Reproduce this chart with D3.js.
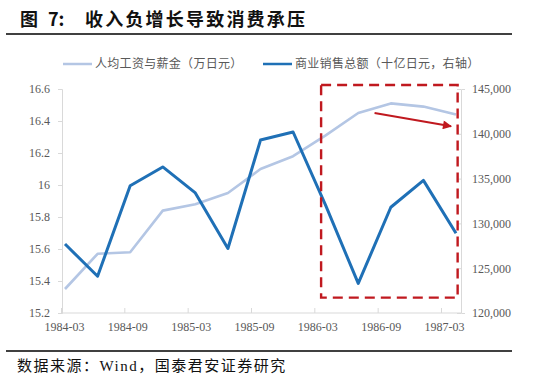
<!DOCTYPE html>
<html>
<head>
<meta charset="utf-8">
<script src="https://cdn.jsdelivr.net/npm/d3@7"></script>
<style>
  html, body { margin: 0; padding: 0; background: #fff; }
  svg { display: block; }
</style>
</head>
<body>
<svg id="chart" width="536" height="378"></svg>
<script>
// ---- data ----
const categories = ["1984-03","1984-06","1984-09","1984-12","1985-03","1985-06","1985-09","1985-12","1986-03","1986-06","1986-09","1986-12","1987-03"];
const wages = [15.35, 15.57, 15.58, 15.84, 15.88, 15.95, 16.10, 16.18, 16.31, 16.45, 16.51, 16.49, 16.44];
const sales = [127700, 124100, 134200, 136300, 133400, 127200, 139300, 140200, 132000, 123300, 131800, 134800, 128900];
const leftTicks = [15.2, 15.4, 15.6, 15.8, 16, 16.2, 16.4, 16.6];
const rightTicks = [120000, 125000, 130000, 135000, 140000, 145000];
const xTickLabels = ["1984-03","1984-09","1985-03","1985-09","1986-03","1986-09","1987-03"];
const seriesNames = ["人均工资与薪金（万日元）", "商业销售总额（十亿日元，右轴）"];
const title = "收入负增长导致消费承压";
const figLabel = ["图", "7:"];
const source = "数据来源：Wind，国泰君安证券研究";
// annotation box in data space (category index, left-axis value)
const boxX = [7.86, 12.05];
const boxY = [16.625, 15.296];
const arrowFrom = [9.5, 16.45];
const arrowTo = [11.85, 16.367];

// ---- layout ----
const svg = d3.select("#chart");
const plot = { left: 62, right: 461, top: 89, bottom: 313 };
const cLight = "#b4c6e4";
const cDark = "#1f70b6";
const cRed = "#c0191f";
const cText = "#595959";
const cAxis = "#d9d9d9";
const serif = "'Liberation Serif', 'Times New Roman', serif";
const cjk = "'Noto Sans CJK SC', sans-serif";

const x = d3.scalePoint().domain(categories).range([65, 456]);
const xi = d3.scaleLinear().domain([0, categories.length - 1]).range([65, 456]);
const xLab = d3.scalePoint().domain(xTickLabels).range([64, 444]);
const yL = d3.scaleLinear().domain([15.2, 16.6]).range([plot.bottom, plot.top]);
const yR = d3.scaleLinear().domain([120000, 145000]).range([plot.bottom, plot.top]);

// title
const tt = svg.append("text").attr("y", 26)
  .attr("font-family", cjk).attr("font-weight", 700).attr("font-size", 18).attr("fill", "#111");
tt.append("tspan").attr("x", 20).text(figLabel[0]);
tt.append("tspan").attr("x", 48).text(figLabel[1]);
svg.append("text").attr("x", 85).attr("y", 26)
  .attr("font-family", cjk).attr("font-weight", 700).attr("font-size", 18)
  .attr("letter-spacing", 2.2).attr("fill", "#111").text(title);
svg.append("line").attr("x1", 6).attr("x2", 512).attr("y1", 34).attr("y2", 34)
  .attr("stroke", "#000").attr("stroke-width", 1.3);

// legend
const leg = svg.append("g");
[[63, cLight, seriesNames[0]], [263, cDark, seriesNames[1]]].forEach(([lx, c, t]) => {
  leg.append("line").attr("x1", lx).attr("x2", lx + 29).attr("y1", 64).attr("y2", 64)
    .attr("stroke", c).attr("stroke-width", 2.5);
  leg.append("text").attr("x", lx + 32).attr("y", 68)
    .attr("font-family", cjk).attr("font-size", 12).attr("letter-spacing", 0.3)
    .attr("fill", cText).text(t);
});

// axes
const axL = svg.append("g").attr("transform", `translate(${plot.left},0)`)
  .call(d3.axisLeft(yL).tickValues(leftTicks).tickSize(4).tickPadding(8)
    .tickFormat(d => d3.format("")(Math.round(d * 10) / 10)));
const axR = svg.append("g").attr("transform", `translate(${plot.right},0)`)
  .call(d3.axisRight(yR).tickValues(rightTicks).tickSize(4).tickPadding(7)
    .tickFormat(d3.format(",")));
const axB = svg.append("g").attr("transform", `translate(0,${plot.bottom})`)
  .call(d3.axisBottom(xLab).tickSize(0).tickPadding(9));
axB.select(".domain").attr("d", `M${plot.left},0H${plot.right}`);
axB.selectAll(".tick").append("line").attr("x1", -3).attr("x2", -3).attr("y1", 0).attr("y2", -5).attr("stroke", cAxis);
[axL, axR, axB].forEach(a => {
  a.select(".domain").attr("stroke", cAxis);
  a.selectAll(".tick line").attr("stroke", cAxis);
  a.selectAll(".tick text").attr("font-family", serif).attr("font-size", 12).attr("fill", cText);
});
axR.selectAll(".tick line").attr("x2", -4);

// lines
const lineL = d3.line().x((d, i) => x(categories[i])).y(d => yL(d));
const lineR = d3.line().x((d, i) => x(categories[i])).y(d => yR(d));
svg.append("path").datum(wages).attr("d", lineL).attr("fill", "none")
  .attr("stroke", cLight).attr("stroke-width", 2.6).attr("stroke-linejoin", "round");
svg.append("path").datum(sales).attr("d", lineR).attr("fill", "none")
  .attr("stroke", cDark).attr("stroke-width", 3).attr("stroke-linejoin", "round");

// annotation box
svg.append("rect")
  .attr("x", xi(boxX[0])).attr("y", yL(boxY[0]))
  .attr("width", xi(boxX[1]) - xi(boxX[0])).attr("height", yL(boxY[1]) - yL(boxY[0]))
  .attr("fill", "none").attr("stroke", cRed).attr("stroke-width", 2.4)
  .attr("stroke-dasharray", "10,6");

// arrow
const defs = svg.append("defs");
defs.append("marker").attr("id", "ah").attr("viewBox", "0 0 10 10")
  .attr("refX", 9).attr("refY", 5).attr("markerWidth", 5).attr("markerHeight", 4.5)
  .attr("orient", "auto").attr("markerUnits", "strokeWidth")
  .append("path").attr("d", "M0,0L10,5L0,10z").attr("fill", cRed);
svg.append("line")
  .attr("x1", xi(arrowFrom[0])).attr("y1", yL(arrowFrom[1]))
  .attr("x2", xi(arrowTo[0])).attr("y2", yL(arrowTo[1]))
  .attr("stroke", cRed).attr("stroke-width", 2).attr("marker-end", "url(#ah)");

// footer
svg.append("line").attr("x1", 6).attr("x2", 512).attr("y1", 351).attr("y2", 351)
  .attr("stroke", "#000").attr("stroke-width", 1.3);
svg.append("text").attr("x", 17).attr("y", 371)
  .attr("font-family", serif + ", " + cjk).attr("font-size", 15).attr("letter-spacing", 1.5)
  .attr("fill", "#111").text(source);
</script>
</body>
</html>
